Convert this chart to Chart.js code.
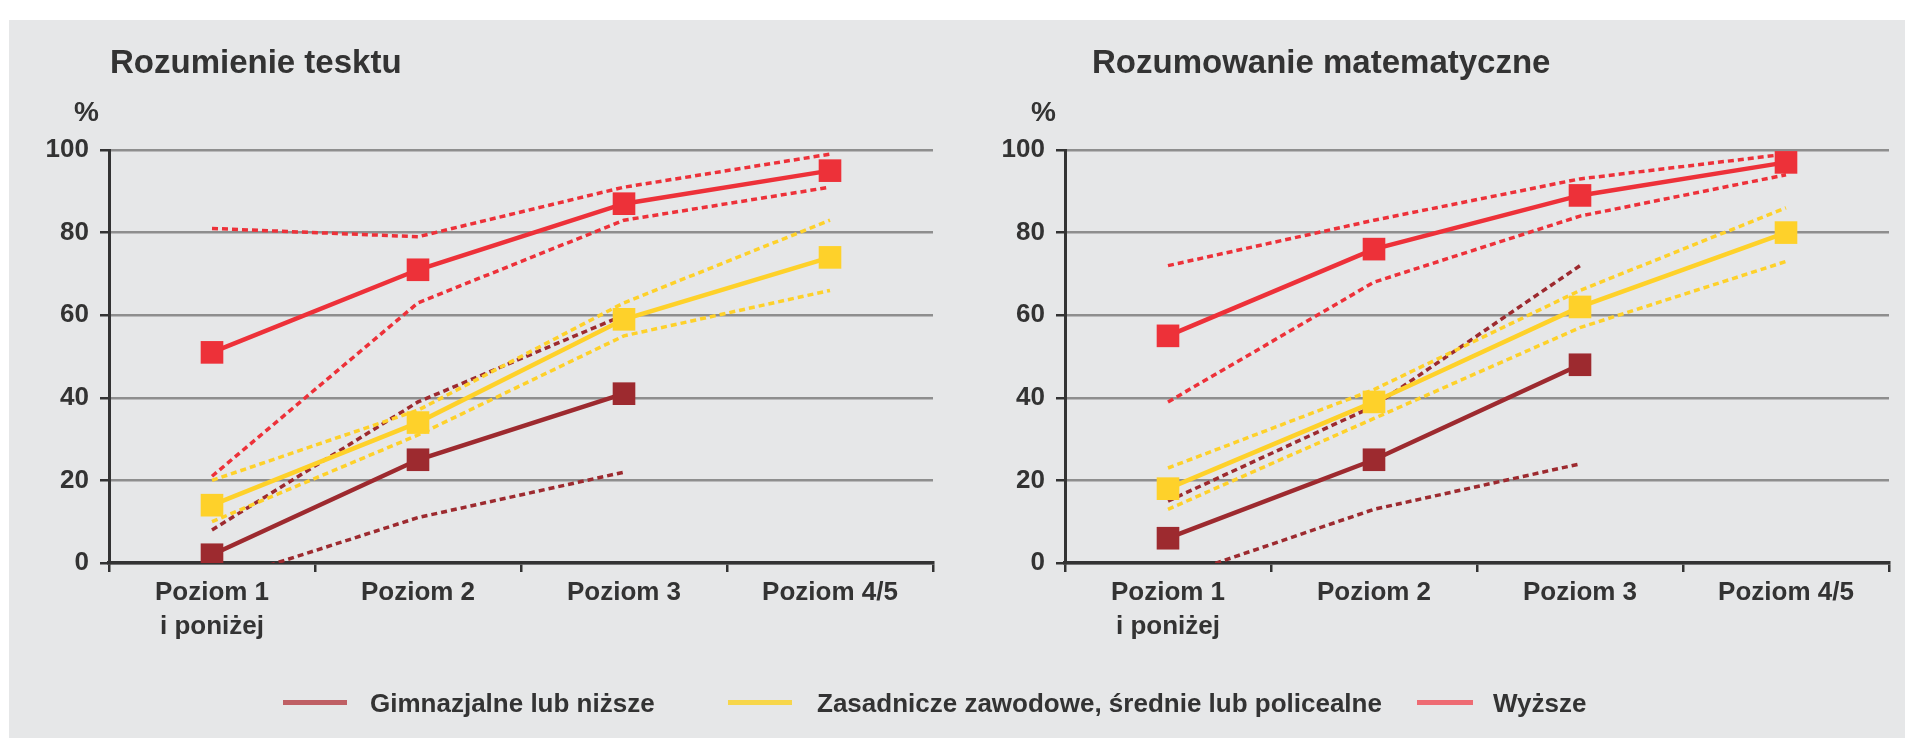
<!DOCTYPE html>
<html>
<head>
<meta charset="utf-8">
<script src="https://cdn.jsdelivr.net/npm/chart.js@4"></script>
<style>
  body { margin: 0; background: #fff; }
  #wrap { position: relative; width: 1905px; height: 738px; overflow: hidden; background: #fff; }
  .panel { position: absolute; left: 9px; top: 20px; right: 0; bottom: 0; background: #e6e7e8; }
  .txt { position: absolute; font-family: "Liberation Sans", Arial, sans-serif; font-weight: bold; color: #333; white-space: nowrap; }
  .title { font-size: 33px; line-height: 33px; }
  .pct { font-size: 28px; line-height: 28px; }
  .leg { font-size: 26px; line-height: 26px; top: 690px; }
  .legline { position: absolute; top: 700px; height: 5px; }
  canvas { position: absolute; top: 0; }
</style>
</head>
<body>
<div id="wrap">
  <div class="panel"></div>
  <canvas id="chartText" width="950" height="738" style="left:0"></canvas>
  <canvas id="chartMath" width="950" height="738" style="left:956px"></canvas>

  <div class="txt title" style="left:110px;top:45px">Rozumienie tesktu</div>
  <div class="txt title" style="left:1092px;top:45px">Rozumowanie matematyczne</div>
  <div class="txt pct" style="left:74px;top:98px">%</div>
  <div class="txt pct" style="left:1031px;top:98px">%</div>

  <div class="legline" style="left:283px;width:64px;background:#bf5f64"></div>
  <div class="txt leg" style="left:370px">Gimnazjalne lub niższe</div>
  <div class="legline" style="left:728px;width:64px;background:#f7d64a"></div>
  <div class="txt leg" style="left:817px">Zasadnicze zawodowe, średnie lub policealne</div>
  <div class="legline" style="left:1417px;width:56px;background:#ee6b73"></div>
  <div class="txt leg" style="left:1493px">Wyższe</div>
</div>
<script>
// categories and y ticks
var categories = [["Poziom 1", "i poniżej"], "Poziom 2", "Poziom 3", "Poziom 4/5"];
var yTicks = [0, 20, 40, 60, 80, 100];

// Rozumienie tekstu: value, upper and lower bound per education group
var textGim = [2, 25, 41, null];
var textGimUp = [8, 39, 60, null];
var textGimLo = [-5, 11, 22, null];
var textZas = [14, 34, 59, 74];
var textZasUp = [20, 37, 63, 83];
var textZasLo = [10, 31, 55, 66];
var textWyz = [51, 71, 87, 95];
var textWyzUp = [81, 79, 91, 99];
var textWyzLo = [21, 63, 83, 91];

// Rozumowanie matematyczne
var mathGim = [6, 25, 48, null];
var mathGimUp = [15, 38, 72, null];
var mathGimLo = [-4, 13, 24, null];
var mathZas = [18, 39, 62, 80];
var mathZasUp = [23, 42, 66, 86];
var mathZasLo = [13, 35, 57, 73];
var mathWyz = [55, 76, 89, 97];
var mathWyzUp = [72, 83, 93, 99];
var mathWyzLo = [39, 68, 84, 94];

var colGim = "#9d2a2f";
var colZas = "#fed12a";
var colWyz = "#ed3139";
var fontFamily = "'Liberation Sans', Arial, sans-serif";

function solid(data, color) {
    return {
        data: data,
        borderColor: color,
        backgroundColor: color,
        borderWidth: 4.5,
        pointStyle: "rect",
        pointRadius: 16,
        pointBorderWidth: 0,
        pointBackgroundColor: color,
        order: 0,
    };
}

function dashed(data, color) {
    return {
        data: data,
        borderColor: color,
        borderWidth: 3.5,
        borderDash: [6, 4],
        pointRadius: 0,
        order: 1,
        clip: 0,
    };
}

function makeChart(id, gim, gimUp, gimLo, zas, zasUp, zasLo, wyz, wyzUp, wyzLo) {
    var ctx = document.getElementById(id).getContext("2d");
    return new Chart(ctx, {
        type: "line",
        data: {
            labels: categories,
            datasets: [
                solid(wyz, colWyz),
                solid(zas, colZas),
                solid(gim, colGim),
                dashed(wyzUp, colWyz),
                dashed(wyzLo, colWyz),
                dashed(zasUp, colZas),
                dashed(zasLo, colZas),
                dashed(gimUp, colGim),
                dashed(gimLo, colGim),
            ],
        },
        options: {
            responsive: false,
            animation: false,
            layout: { padding: { top: 150, right: 17, bottom: 75, left: 0 } },
            plugins: { legend: { display: false }, tooltip: { enabled: false } },
            scales: {
                x: {
                    offset: true,
                    grid: {
                        offset: true,
                        drawOnChartArea: false,
                        tickLength: 9,
                        tickColor: "#333",
                        lineWidth: 2.5,
                    },
                    border: { color: "#333", width: 3.5 },
                    ticks: {
                        padding: 4,
                        color: "#333",
                        font: { family: fontFamily, size: 26, weight: "bold", lineHeight: 1.3 },
                        maxRotation: 0,
                        autoSkip: false,
                    },
                    afterFit: function (s) { s.height = 100; },
                },
                y: {
                    min: 0,
                    max: 100,
                    afterBuildTicks: function (s) {
                        s.ticks = yTicks.map(function (v) { return { value: v }; });
                    },
                    grid: {
                        color: "#8e8e8e",
                        lineWidth: 2.5,
                        tickLength: 9,
                        tickColor: "#333",
                    },
                    border: { color: "#333", width: 3 },
                    ticks: {
                        padding: 11,
                        color: "#333",
                        font: { family: fontFamily, size: 26, weight: "bold" },
                    },
                    afterFit: function (s) { s.width = 109; },
                },
            },
        },
    });
}

makeChart("chartText", textGim, textGimUp, textGimLo, textZas, textZasUp, textZasLo, textWyz, textWyzUp, textWyzLo);
makeChart("chartMath", mathGim, mathGimUp, mathGimLo, mathZas, mathZasUp, mathZasLo, mathWyz, mathWyzUp, mathWyzLo);
</script>
</body>
</html>
